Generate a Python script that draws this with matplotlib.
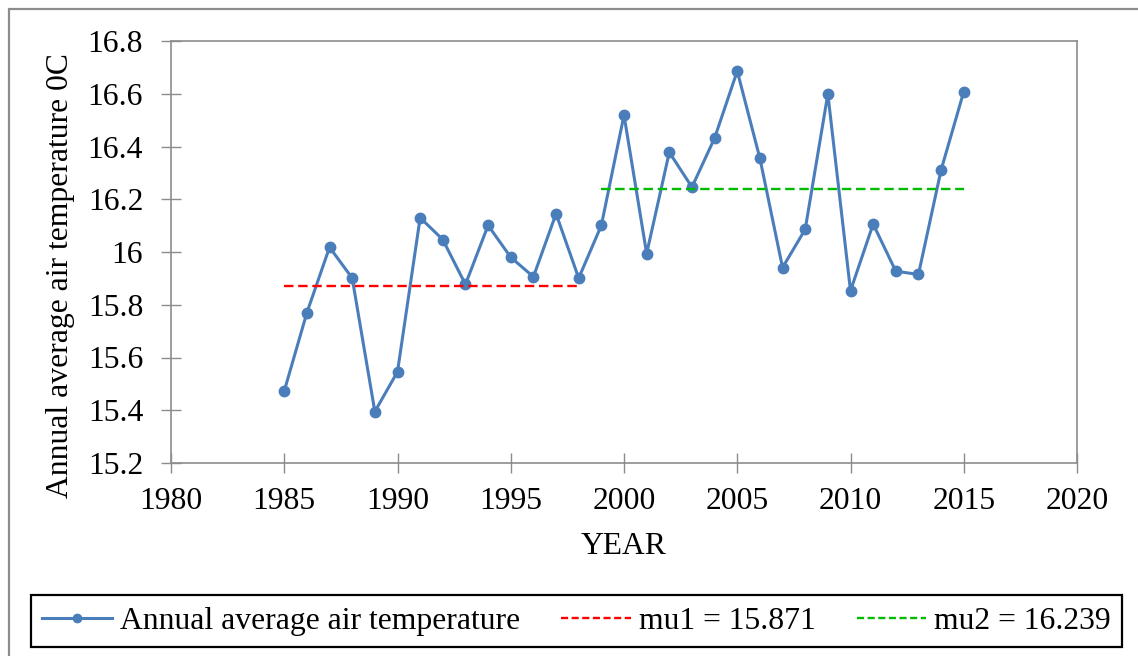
import numpy as np
import matplotlib
matplotlib.use('Agg')
import matplotlib.pyplot as plt
from matplotlib.patches import Rectangle

# data
years = list(range(1985, 2016))
temp = [15.473, 15.770, 16.018, 15.901, 15.395, 15.546, 16.130, 16.047,
        15.877, 16.101, 15.980, 15.906, 16.145, 15.901, 16.101, 16.519,
        15.994, 16.378, 16.246, 16.432, 16.686, 16.355, 15.941, 16.086,
        16.599, 15.853, 16.106, 15.927, 15.915, 16.311, 16.608]
mu1_years = [1985, 1998]
mu1 = 15.871
mu2_years = [1999, 2015]
mu2 = 16.239

xticks = [1980, 1985, 1990, 1995, 2000, 2005, 2010, 2015, 2020]
yticks = [15.2, 15.4, 15.6, 15.8, 16.0, 16.2, 16.4, 16.6, 16.8]
ytick_labels = ['15.2', '15.4', '15.6', '15.8', '16', '16.2', '16.4', '16.6', '16.8']

plt.rcParams['font.family'] = ['Liberation Serif', 'DejaVu Serif']
fs = 22.8

fig = plt.figure(figsize=(11.38, 6.56), dpi=100)
ax = fig.add_axes([171/1138, 1 - 463/656, 906/1138, 422/656])

# outer chart frame
fig.patches.append(Rectangle((9/1138, -0.1), 1.2, 1 - 9/656 + 0.1,
                             transform=fig.transFigure, fill=False,
                             edgecolor='#8c8c8c', lw=1.6))

ax.plot(years, temp, color='#4A7EBB', lw=2.2, marker='o', ms=7.5,
        label='Annual average air temperature')
ax.plot(mu1_years, [mu1, mu1], color='#FF0000', lw=1.7, ls=(0, (4, 2)),
        label='mu1 = 15.871')
ax.plot(mu2_years, [mu2, mu2], color='#00BB00', lw=1.7, ls=(0, (4, 2)),
        label='mu2 = 16.239')

ax.set_xlim(1980, 2020)
ax.set_ylim(15.2, 16.8)
ax.set_xticks(xticks)
ax.set_yticks(yticks)
ax.set_yticklabels(ytick_labels)
ax.tick_params(direction='inout', length=14, width=1.0, color='#8c8c8c',
               labelsize=fs)
ax.tick_params(axis='y', pad=13)
ax.tick_params(axis='x', pad=10)
for s in ax.spines.values():
    s.set_color('#8c8c8c')
    s.set_linewidth(1.2)

ax.set_xlabel('YEAR', fontsize=fs, labelpad=12)
ax.set_ylabel('Annual average air temperature 0C', fontsize=fs)
ax.yaxis.set_label_coords(-0.106, 0.445)

leg = fig.legend(loc='center', bbox_to_anchor=(576.5/1138, 1 - 621/656),
                 ncol=3, fontsize=fs, frameon=True, fancybox=False,
                 edgecolor='black', framealpha=1, handlelength=2.2,
                 handletextpad=0.25, columnspacing=1.3, borderpad=0.35,
                 markerscale=0.8)
leg.get_frame().set_linewidth(1.6)
for h in leg.get_lines()[1:]:
    h.set_linestyle((0, (3, 1.5)))

fig.savefig('out.png', dpi=100)
